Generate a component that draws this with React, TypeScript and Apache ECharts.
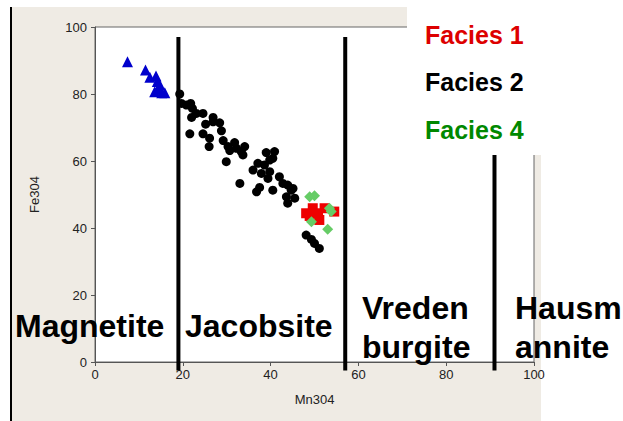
import React, { useEffect, useRef } from "react";
import * as echarts from "echarts";

// Mn3O4 (x) vs Fe3O4 (y)
const magnetite: number[][] = [
  [7.4, 89.6], [11.5, 87.2], [12.5, 85.0], [13.9, 85.4], [14.2, 83.7],
  [14.8, 82.7], [13.6, 80.7], [15.2, 80.4], [15.9, 80.4], [14.3, 81.5],
];

const facies2: number[][] = [
  [19.3, 80.0], [19.7, 77.2], [20.8, 76.7], [21.8, 77.2], [22.2, 75.7],
  [23.1, 74.2], [22.0, 73.0], [24.6, 74.2], [25.2, 71.0], [26.9, 73.0],
  [26.9, 71.7], [28.4, 71.4], [28.8, 69.0], [21.6, 68.1], [24.6, 68.1],
  [26.1, 66.8], [26.0, 64.3], [29.2, 66.1], [30.3, 64.3], [31.8, 65.5],
  [30.7, 63.1], [32.2, 63.8], [33.3, 62.8], [34.1, 64.3], [33.7, 61.8],
  [29.9, 59.8], [39.0, 62.5], [40.9, 62.8], [39.8, 60.3], [37.1, 59.3],
  [38.6, 58.8], [40.5, 60.8], [36.0, 57.3], [37.9, 56.3], [39.8, 56.8],
  [42.0, 55.3], [39.4, 54.8], [33.0, 53.3], [42.8, 53.3], [43.9, 52.8],
  [37.5, 52.1], [40.5, 51.3], [36.8, 50.8], [45.1, 51.8], [43.6, 49.3],
  [45.5, 48.9], [43.9, 47.4], [44.7, 51.3], [48.1, 37.9], [49.3, 36.6],
  [50.0, 35.4], [51.1, 33.9],
];

const facies1: number[][] = [
  [48.1, 44.4], [49.6, 45.9], [50.8, 44.4], [51.1, 42.4], [54.5, 44.9],
  [52.3, 45.9], [48.9, 43.6],
];

const facies4: number[][] = [
  [48.9, 49.3], [50.0, 49.6], [53.4, 45.9], [53.8, 44.9], [49.3, 41.9],
  [53.0, 39.6],
];

const boundaryX: number[] = [19, 57, 91];
const boundaryTop = 97;
const boundaryBottom = -2.5;

const xTicks: number[] = [0, 20, 40, 60, 80, 100];
const yTicks: number[] = [0, 20, 40, 60, 80, 100];

const FONT = "'Liberation Sans', Arial, sans-serif";

export default function App() {
  const ref = useRef<HTMLDivElement>(null);

  useEffect(() => {
    document.body.style.margin = "0";
    if (!ref.current) return;
    const chart = echarts.init(ref.current, undefined, { renderer: "svg" });

    const boundarySeries = boundaryX.map((bx) => ({
      type: "line",
      data: [
        [bx, boundaryTop],
        [bx, boundaryBottom],
      ],
      symbol: "none",
      clip: false,
      silent: true,
      z: 3,
      lineStyle: { color: "#000", width: 4 },
    }));

    const bigText = (text: string, x: number, y: number) => ({
      type: "text",
      x,
      y,
      z: 100,
      style: {
        text,
        fill: "#000",
        font: `bold 32px ${FONT}`,
        verticalAlign: "middle",
        align: "left",
      },
    });

    const faciesText = (text: string, color: string, y: number) => ({
      type: "text",
      x: 425,
      y,
      z: 100,
      style: {
        text,
        fill: color,
        font: `bold 25px ${FONT}`,
        verticalAlign: "middle",
        align: "left",
      },
    });

    chart.setOption({
      animation: false,
      backgroundColor: "#ffffff",
      grid: {
        left: 95,
        top: 27,
        width: 439,
        height: 335,
        show: true,
        backgroundColor: "#ffffff",
        borderColor: "#666",
        borderWidth: 1,
        z: 0,
      },
      xAxis: {
        type: "value",
        min: xTicks[0],
        max: xTicks[xTicks.length - 1],
        interval: 20,
        name: "Mn304",
        nameLocation: "middle",
        nameGap: 31,
        nameTextStyle: { color: "#222", fontSize: 13, fontFamily: FONT },
        axisLine: { show: true, lineStyle: { color: "#555" } },
        axisTick: { show: true, length: 4, lineStyle: { color: "#555" } },
        axisLabel: { color: "#222", fontSize: 13, fontFamily: FONT, margin: 6 },
        splitLine: { show: false },
      },
      yAxis: {
        type: "value",
        min: yTicks[0],
        max: yTicks[yTicks.length - 1],
        interval: 20,
        name: "Fe304",
        nameLocation: "middle",
        nameGap: 54,
        nameRotate: 90,
        nameTextStyle: { color: "#222", fontSize: 13, fontFamily: FONT },
        axisLine: { show: true, lineStyle: { color: "#555" } },
        axisTick: { show: true, length: 4, lineStyle: { color: "#555" } },
        axisLabel: { color: "#222", fontSize: 13, fontFamily: FONT, margin: 8 },
        splitLine: { show: false },
      },
      series: [
        {
          type: "scatter",
          name: "Magnetite",
          data: magnetite,
          symbol: "triangle",
          symbolSize: 11,
          itemStyle: { color: "#0000cc", opacity: 1 },
          z: 4,
        },
        {
          type: "scatter",
          name: "Facies 2",
          data: facies2,
          symbol: "circle",
          symbolSize: 9,
          itemStyle: { color: "#000", opacity: 1 },
          z: 4,
        },
        {
          type: "scatter",
          name: "Facies 1",
          data: facies1,
          symbol: "rect",
          symbolSize: 10,
          itemStyle: { color: "#ee0000", opacity: 1 },
          z: 5,
        },
        {
          type: "scatter",
          name: "Facies 4",
          data: facies4,
          symbol: "diamond",
          symbolSize: 11,
          itemStyle: { color: "#66cc66", opacity: 1 },
          z: 6,
        },
        ...boundarySeries,
      ],
      graphic: [
        {
          type: "rect",
          z: -10,
          shape: { x: 10, y: 7, width: 531, height: 414 },
          style: { fill: "#efebe4" },
        },
        {
          type: "line",
          z: -9,
          shape: { x1: 11, y1: 7, x2: 11, y2: 421 },
          style: { stroke: "#000", lineWidth: 2 },
        },
        {
          type: "rect",
          z: 50,
          shape: { x: 407, y: 0, width: 216, height: 155 },
          style: { fill: "#ffffff" },
        },
        bigText("Magnetite", 15, 326),
        bigText("Jacobsite", 185, 326),
        bigText("Vreden", 362, 308),
        bigText("burgite", 362, 347),
        bigText("Hausm", 515, 308),
        bigText("annite", 515, 347),
        faciesText("Facies 1", "#dd0000", 35),
        faciesText("Facies 2", "#000000", 82),
        faciesText("Facies 4", "#008800", 130),
      ],
    });

    return () => chart.dispose();
  }, []);

  return (
    <div
      ref={ref}
      style={{ position: "absolute", left: 0, top: 0, width: 623, height: 421 }}
    />
  );
}
